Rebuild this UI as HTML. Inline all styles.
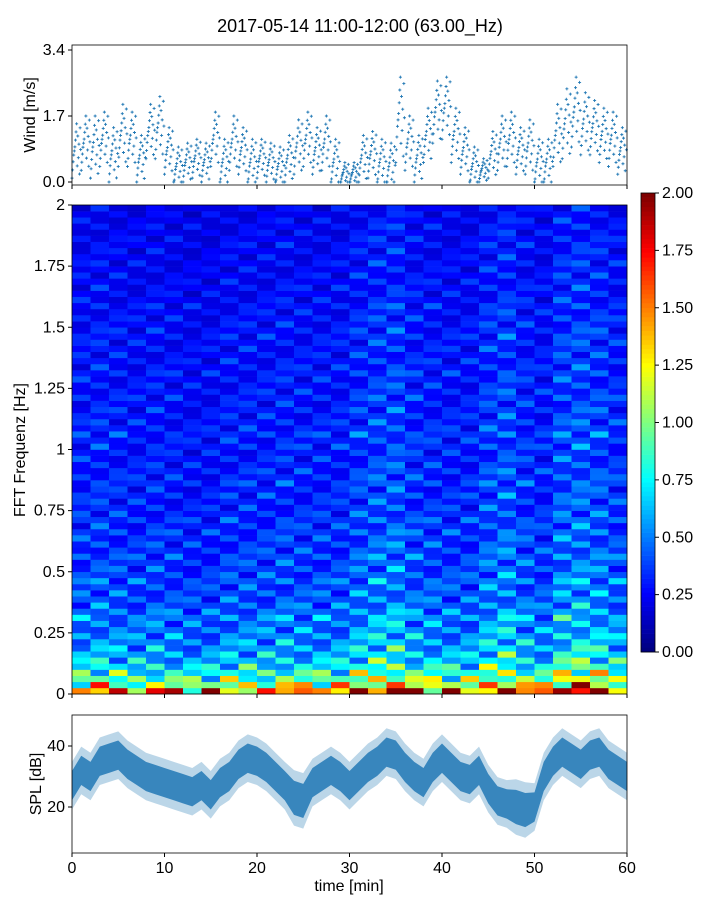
<!DOCTYPE html>
<html><head><meta charset="utf-8">
<style>
html,body{margin:0;padding:0;background:#fff;}
svg text{font-family:"Liberation Sans","DejaVu Sans",sans-serif;fill:#000;}
</style></head>
<body>
<svg id="fig" width="720" height="900" xmlns="http://www.w3.org/2000/svg">
<text x="360" y="32" font-size="18" text-anchor="middle">2017-05-14 11:00-12:00 (63.00_Hz)</text>
<g id="wind"></g>
<g id="spec"></g>
<g id="cbar"></g>
<g id="spl"></g>
</svg>
<script>
// ---- data ----
const windMinutes = [0,1,2,3,4,5,6,7,8,9,10,11,12,13,14,15,16,17,18,19,20,21,22,23,24,25,26,27,28,29,30,31,32,33,34,35,36,37,38,39,40,41,42,43,44,45,46,47,48,49,50,51,52,53,54,55,56,57,58,59,60];
const windMean = [0.8,1.0,0.9,1.1,0.7,1.2,1.1,0.6,1.3,1.4,0.8,0.4,0.5,0.6,0.5,1.1,0.5,1.0,0.8,0.5,0.6,0.5,0.4,0.6,0.9,1.1,0.8,1.0,0.5,0.2,0.2,0.6,0.7,0.5,0.4,1.6,1.0,0.6,1.2,1.8,1.9,1.2,0.8,0.4,0.3,0.7,1.0,1.1,0.8,0.9,0.5,0.5,1.2,1.5,1.8,1.5,1.4,1.2,1.1,0.8,0.7];
const windSpread = [0.7,0.7,0.8,0.7,0.7,0.8,0.7,0.6,0.7,0.8,0.6,0.5,0.5,0.5,0.5,0.7,0.6,0.7,0.6,0.6,0.5,0.5,0.5,0.6,0.7,0.7,0.6,0.7,0.6,0.3,0.3,0.6,0.6,0.6,0.6,1.1,0.7,0.6,0.7,0.8,0.8,0.7,0.6,0.5,0.3,0.6,0.7,0.7,0.6,0.7,0.6,0.6,0.8,0.9,0.9,0.8,0.7,0.7,0.7,0.6,0.6];
const windOffsets = [-1,-0.7,-0.4,-0.15,0,0.15,0.4,0.7,1,-0.55,0.55,-0.25,0.25,-0.85,0.85,0.05];
const windTicks = [0.0,1.7,3.4];
const windTickLabels = ["0.0","1.7","3.4"];

const freqProfile = [1.5,1.1,0.9,0.8,0.7,0.62,0.58,0.55,0.52,0.5,0.48,0.46,0.5,0.45,0.42,0.4,0.4,0.38,0.42,0.37,
 0.37,0.36,0.38,0.35,0.35,0.34,0.36,0.33,0.35,0.32,0.32,0.31,0.33,0.3,0.34,0.31,0.32,0.3,0.3,0.29,
 0.32,0.3,0.34,0.3,0.3,0.29,0.3,0.28,0.3,0.29,0.28,0.28,0.3,0.28,0.28,0.27,0.28,0.27,0.29,0.28,
 0.27,0.27,0.26,0.28,0.25,0.25,0.26,0.25,0.25,0.24,0.25,0.24,0.24,0.25,0.24,0.23,0.24,0.23,0.22,0.22];
const timeFactor = [1.0,1.05,1.0,0.95,1.0,0.95,0.9,0.9,1.0,1.0,1.0,1.05,1.0,1.0,1.0,1.15,1.25,1.3,1.1,1.05,1.0,1.0,1.2,1.3,1.1,1.0,1.3,1.35,1.25,1.1];
const texture = [1.0,0.7,1.35,0.85,1.15,0.6,1.25,0.9,1.5,0.75,1.05,0.8,1.2];
const specTicks = [0,0.25,0.5,0.75,1,1.25,1.5,1.75,2];
const specTickLabels = ["0","0.25","0.5","0.75","1","1.25","1.5","1.75","2"];
const cbarTicks = [0,0.25,0.5,0.75,1,1.25,1.5,1.75,2];
const cbarTickLabels = ["0.00","0.25","0.50","0.75","1.00","1.25","1.50","1.75","2.00"];

const splMinutes = windMinutes;
const splMean = [27,32,30,35,36,37,34,32,30,29,28,27,26,25,27,24,28,30,34,36,35,33,30,27,23,22,28,30,32,30,27,30,33,35,38,37,33,30,28,33,36,33,30,29,32,26,22,21,20,19,20,30,35,38,36,34,37,38,34,32,30];
const splSpread = [6,6,6,6,6,6,6,6,6,6,6,6,6,6,6,6,6,6,6,6,6,6,6,6,7,7,6,6,6,6,6,6,6,6,6,6,6,6,6,6,6,6,6,6,6,6,6,6,7,7,6,6,6,6,6,6,6,6,6,6,6];
const splTicks = [20,40];
const timeTicks = [0,10,20,30,40,50,60];

// ---- helpers ----
const NS="http://www.w3.org/2000/svg";
function mk(tag,attrs,parent){const e=document.createElementNS(NS,tag);for(const k in attrs)e.setAttribute(k,attrs[k]);parent.appendChild(e);return e;}
const X0=72,X1=627;
const xs = t => X0 + (t/60)*(X1-X0);
const yWind = v => 182 - v*(132/3.4);
const ySpec = f => 694 - f*(489/2);
const yCbar = v => 652 - v*(459/2);
const ySpl = v => 807 - (v-20)*(61/20);
function jet(v){v=Math.max(0,Math.min(1,v));
 const r=Math.max(0,Math.min(1,1.5-Math.abs(4*v-3))),g=Math.max(0,Math.min(1,1.5-Math.abs(4*v-2))),b=Math.max(0,Math.min(1,1.5-Math.abs(4*v-1)));
 return `rgb(${Math.round(r*255)},${Math.round(g*255)},${Math.round(b*255)})`;}

// ---- wind ----
const wind=document.getElementById('wind');
let pts="";
windMean.forEach((m,i)=>{
 if(i===windMean.length-1) return;
 windOffsets.forEach((o,j)=>{
  const t=windMinutes[i]+j/windOffsets.length;
  const v=Math.max(0,m+o*windSpread[i]);
  const x=xs(t),y=yWind(v);
  pts+=`M${x-1.5},${y}h3M${x},${y-1.5}v3`;
 });
});
const wp=mk('path',{d:pts,stroke:'#1f77b4','stroke-width':0.9},wind);


const wf=mk('rect',{x:X0,y:45,width:X1-X0,height:140,fill:'none',stroke:'#000','stroke-width':0.8},wind);


windTicks.forEach((v,i)=>{
 mk('line',{x1:X0-4,x2:X0,y1:yWind(v),y2:yWind(v),stroke:'#000'},wind);
 const t=mk('text',{x:X0-7,y:yWind(v)+5,'font-size':16,'text-anchor':'end'},wind);t.textContent=windTickLabels[i];
 
 
});
timeTicks.forEach(v=>mk('line',{x1:xs(v),x2:xs(v),y1:185,y2:189,stroke:'#000'},wind));
const wl=mk('text',{x:0,y:0,'font-size':16,'text-anchor':'middle',transform:'translate(35,115) rotate(-90)'},wind);wl.textContent='Wind [m/s]';



// ---- spectrogram ----
const spec=document.getElementById('spec');
const nR=freqProfile.length,nC=timeFactor.length,df=2/nR,dt=60/nC;
freqProfile.forEach((p,r)=>{
 timeFactor.forEach((tf,c)=>{
  const v=p*tf*texture[(r*5+c*3)%texture.length];
  const x=xs(c*dt),y=ySpec((r+1)*df);
  const rc=mk('rect',{x:x,y:y,width:xs((c+1)*dt)-x+0.3,height:ySpec(r*df)-y+0.3,fill:jet(v/2)},spec);
  
  
 });
});
mk('rect',{x:X0,y:205,width:X1-X0,height:489,fill:'none',stroke:'#000','stroke-width':0.8},spec);
specTicks.forEach((v,i)=>{
 mk('line',{x1:X0-4,x2:X0,y1:ySpec(v),y2:ySpec(v),stroke:'#000'},spec);
 const t=mk('text',{x:X0-7,y:ySpec(v)+5,'font-size':16,'text-anchor':'end'},spec);t.textContent=specTickLabels[i];
 
 
});
timeTicks.forEach(v=>mk('line',{x1:xs(v),x2:xs(v),y1:694,y2:698,stroke:'#000'},spec));
const sl=mk('text',{x:0,y:0,'font-size':16,'text-anchor':'middle',transform:'translate(25,450) rotate(-90)'},spec);sl.textContent='FFT Frequenz [Hz]';



// ---- colorbar ----
const cb=document.getElementById('cbar');
for(let i=0;i<100;i++){
 const y=yCbar((i+1)/50);
 mk('rect',{x:641,y:y,width:14,height:yCbar(i/50)-y+0.3,fill:jet(i/99)},cb);
}
mk('rect',{x:641,y:193,width:14,height:459,fill:'none',stroke:'#000','stroke-width':0.8},cb);
cbarTicks.forEach((v,i)=>{
 mk('line',{x1:655,x2:659,y1:yCbar(v),y2:yCbar(v),stroke:'#000'},cb);
 const t=mk('text',{x:662,y:yCbar(v)+5,'font-size':16},cb);t.textContent=cbarTickLabels[i];
 
 
});

// ---- SPL ----
const spl=document.getElementById('spl');
function bandPath(k){
 let up="",lo="";
 splMean.forEach((m,i)=>{up+=(i?'L':'M')+xs(splMinutes[i])+','+ySpl(m+splSpread[i]*k);});
 for(let i=splMean.length-1;i>=0;i--){lo+='L'+xs(splMinutes[i])+','+ySpl(splMean[i]-splSpread[i]*k);}
 return up+lo+'Z';
}
const outer=mk('path',{d:bandPath(1.3),fill:'#1f77b4','fill-opacity':0.3},spl);


const band=mk('path',{d:bandPath(0.8),fill:'#2a7db8','fill-opacity':0.9},spl);


mk('rect',{x:X0,y:715,width:X1-X0,height:138,fill:'none',stroke:'#000','stroke-width':0.8},spl);
splTicks.forEach(v=>{
 mk('line',{x1:X0-4,x2:X0,y1:ySpl(v),y2:ySpl(v),stroke:'#000'},spl);
 const t=mk('text',{x:X0-7,y:ySpl(v)+5,'font-size':16,'text-anchor':'end'},spl);t.textContent=String(v);
 
 
});
timeTicks.forEach(v=>{
 mk('line',{x1:xs(v),x2:xs(v),y1:853,y2:857,stroke:'#000'},spl);
 const t=mk('text',{x:xs(v),y:873,'font-size':16,'text-anchor':'middle'},spl);t.textContent=String(v);
 
 
});
const pl=mk('text',{x:0,y:0,'font-size':16,'text-anchor':'middle',transform:'translate(41,784) rotate(-90)'},spl);pl.textContent='SPL [dB]';


const xl=mk('text',{x:349,y:891,'font-size':16,'text-anchor':'middle'},spl);xl.textContent='time [min]';


</script>
</body></html>
